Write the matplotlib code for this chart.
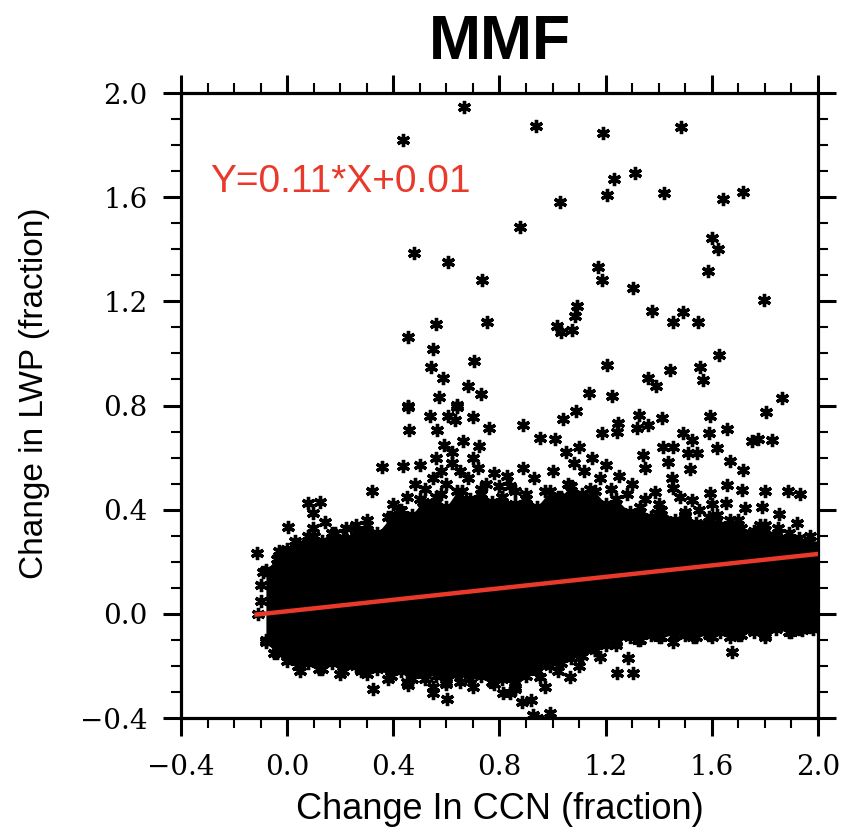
import matplotlib
matplotlib.use("Agg")
import matplotlib.pyplot as plt
from matplotlib.ticker import MultipleLocator
import numpy as np

# ---- data ----
# ragged upper / lower edge of the dense cloud vs CCN change
edge_x = [-0.08, -0.04, 0.00, 0.04, 0.08, 0.13, 0.17, 0.21, 0.26, 0.30, 0.34, 0.39,
          0.43, 0.47, 0.51, 0.56, 0.60, 0.64, 0.69, 0.73, 0.77, 0.81, 0.86, 0.90,
          0.94, 0.99, 1.03, 1.07, 1.11, 1.16, 1.20, 1.24, 1.29, 1.33, 1.37, 1.41,
          1.46, 1.50, 1.54, 1.59, 1.63, 1.67, 1.71, 1.76, 1.80, 1.84, 1.89, 1.93, 1.97]
edge_top = [0.17, 0.21, 0.25, 0.27, 0.30, 0.28, 0.31, 0.29, 0.32, 0.34, 0.31, 0.37,
            0.40, 0.38, 0.43, 0.45, 0.41, 0.47, 0.44, 0.48, 0.43, 0.45, 0.42, 0.46,
            0.41, 0.47, 0.45, 0.49, 0.46, 0.47, 0.42, 0.44, 0.39, 0.41, 0.37, 0.40,
            0.36, 0.39, 0.35, 0.37, 0.34, 0.36, 0.33, 0.32, 0.34, 0.30, 0.31, 0.29, 0.28]
edge_bot = [-0.11, -0.15, -0.18, -0.20, -0.19, -0.21, -0.19, -0.22, -0.20, -0.23, -0.21, -0.24,
            -0.22, -0.25, -0.23, -0.24, -0.26, -0.23, -0.25, -0.24, -0.26, -0.25, -0.28, -0.24,
            -0.22, -0.20, -0.19, -0.17, -0.16, -0.14, -0.12, -0.11, -0.09, -0.10, -0.08, -0.09,
            -0.08, -0.07, -0.09, -0.08, -0.07, -0.09, -0.08, -0.07, -0.08, -0.06, -0.07, -0.06, -0.05]

# scattered points (x, y)
pts_x = [
    # high outliers
    0.666, 0.438, 0.479, 0.607, 0.735, 0.561, 0.754, 0.456, 0.551, 0.705, 0.541,
    0.588, 0.680, 0.730, 0.573, 0.454, 0.639,
    0.936, 1.189, 1.484, 1.311, 1.232, 1.204, 1.420, 1.641, 1.719, 1.028, 0.877,
    1.602, 1.624, 1.170, 1.185, 1.585, 1.304, 1.798, 1.091, 1.085, 1.016, 1.031,
    1.075, 1.373, 1.493, 1.455, 1.547, 1.627, 1.206, 1.443, 1.556, 1.568, 1.361,
    1.390, 1.137, 1.223, 1.866,
    # 0.4 - 0.8 band
    1.088, 1.041, 0.890, 0.953, 1.009, 1.327, 1.414, 1.593, 1.591, 1.656, 1.803,
    1.750, 1.775, 1.828, 1.317, 1.361, 1.248, 1.185, 1.242, 1.340, 1.493, 1.524,
    1.512, 1.543, 1.518, 1.417, 1.455, 1.436, 1.618, 1.669, 1.719, 1.656, 1.713,
    1.800, 1.888, 1.932, 1.725, 1.790, 1.854, 1.593, 1.653, 1.386, 1.455, 1.524,
    1.392, 0.456, 0.538, 0.607, 0.639, 0.632, 0.701, 0.460, 0.566, 0.762, 0.661,
    0.724, 0.591, 0.356, 0.438, 0.319, 0.080, 0.124, 0.099, 0.004, 0.099, 0.143,
    -0.115, -0.100,
    # upper fringe of the cloud
    0.40, 0.45, 0.48, 0.52, 0.55, 0.58, 0.60, 0.62, 0.65, 0.68, 0.70, 0.72, 0.75,
    0.78, 0.80, 0.83, 0.50, 0.42, 0.38, 0.30, 0.26, 0.22, 0.18, 0.58, 0.66, 0.73,
    0.62, 0.56, 0.50, 0.10, 0.03, -0.03,
    1.05, 1.08, 1.10, 1.12, 1.15, 1.18, 1.20, 1.22, 1.06, 1.00, 0.97, 1.02, 1.14,
    1.25, 1.28, 1.30, 0.90, 0.86, 1.35, 1.40, 1.48, 1.55, 1.60, 1.62, 1.70, 1.78,
    1.85, 1.92, 1.97, 1.45, 1.50, 1.35, 0.93, 0.89, 0.84, 0.81,
    # lower fringe and low outliers
    0.05, 0.12, 0.20, 0.28, 0.38, 0.45, 0.52, 0.60, 0.70, 0.78, 0.86, 0.92, 0.97,
    1.02, 1.10, 1.16, 1.24, 1.32, 1.40, 1.50, 1.60, 1.70, 1.80, 1.90, 1.98, -0.05,
    -0.08, -0.10, -0.11, -0.09,
    0.322, 0.456, 0.551, 0.551, 0.601, 0.651, 0.815, 0.953, 1.066, 1.179, 1.242,
    1.304, 1.285, 1.675, 1.455, 1.530, 1.939, 0.840, 0.884, 0.990, 0.927, 0.940,
]
pts_y = [
    1.947, 1.820, 1.387, 1.352, 1.282, 1.113, 1.119, 1.062, 1.016, 0.972, 0.949,
    0.904, 0.876, 0.844, 0.831, 0.798, 0.802,
    1.874, 1.845, 1.868, 1.694, 1.670, 1.608, 1.617, 1.593, 1.621, 1.583, 1.487,
    1.442, 1.401, 1.331, 1.282, 1.318, 1.252, 1.205, 1.183, 1.144, 1.105, 1.083,
    1.090, 1.163, 1.158, 1.122, 1.119, 0.994, 0.955, 0.936, 0.947, 0.898, 0.904,
    0.876, 0.849, 0.838, 0.828,
    0.780, 0.747, 0.725, 0.674, 0.670, 0.763, 0.751, 0.761, 0.696, 0.708, 0.776,
    0.664, 0.670, 0.667, 0.712, 0.725, 0.731, 0.693, 0.699, 0.610, 0.693, 0.667,
    0.616, 0.616, 0.556, 0.642, 0.642, 0.584, 0.636, 0.587, 0.552, 0.495, 0.475,
    0.473, 0.473, 0.460, 0.405, 0.411, 0.382, 0.463, 0.424, 0.469, 0.482, 0.437,
    0.386, 0.793, 0.760, 0.760, 0.793, 0.744, 0.754, 0.706, 0.706, 0.712, 0.665,
    0.644, 0.648, 0.565, 0.568, 0.473, 0.427, 0.431, 0.386, 0.335, 0.329, 0.354,
    0.235, 0.111,
    0.42, 0.45, 0.50, 0.48, 0.52, 0.55, 0.50, 0.58, 0.55, 0.52, 0.60, 0.56, 0.50,
    0.54, 0.49, 0.53, 0.44, 0.40, 0.37, 0.36, 0.34, 0.33, 0.31, 0.46, 0.47, 0.46,
    0.62, 0.60, 0.57, 0.30, 0.28, 0.24,
    0.62, 0.58, 0.64, 0.55, 0.60, 0.52, 0.57, 0.48, 0.50, 0.55, 0.47, 0.45, 0.48,
    0.53, 0.46, 0.50, 0.44, 0.47, 0.44, 0.42, 0.45, 0.40, 0.42, 0.38, 0.36, 0.34,
    0.33, 0.35, 0.30, 0.52, 0.38, 0.56, 0.52, 0.56, 0.49, 0.45,
    -0.22, -0.21, -0.23, -0.22, -0.25, -0.26, -0.25, -0.27, -0.28, -0.27, -0.29,
    -0.33, -0.28, -0.22, -0.20, -0.14, -0.12, -0.10, -0.09, -0.08, -0.09, -0.08,
    -0.09, -0.07, -0.06, -0.15, -0.10, 0.05, 0.0, 0.16,
    -0.290, -0.273, -0.280, -0.303, -0.327, -0.261, -0.305, -0.241, -0.241, -0.165,
    -0.229, -0.226, -0.171, -0.148, -0.107, -0.088, -0.062, -0.305, -0.337, -0.382,
    -0.389, -0.400,
]

# regression line given in the figure
slope = 0.11
intercept = 0.01
fit_label = "Y=0.11*X+0.01"

title = "MMF"
xlabel = "Change In CCN (fraction)"
ylabel = "Change in LWP (fraction)"

red = "#e8392b"
star = dict(ls="none", marker=(6, 2, 0), ms=9.5, mew=2.4, color="black", zorder=3)

fig = plt.figure(figsize=(8.46, 8.32), dpi=100)
ax = fig.add_axes([0.2139, 0.137, 0.7530, 0.7512])

# dense cloud between the edge points, clipped at the right axis
ex = edge_x + [2.0]
ax.fill_between(ex, edge_bot + [edge_bot[-1]], edge_top + [edge_top[-1]],
                color="black", lw=0, zorder=2)
ax.plot(edge_x, edge_top, **star)
ax.plot(edge_x, edge_bot, **star)
ax.plot(pts_x, pts_y, **star)

# fit line over the data range
allx = np.array(pts_x + edge_x + [2.0])
lx = np.array([allx.min(), allx.max()])
ax.plot(lx, slope * lx + intercept, color=red, lw=3.2, zorder=4)

ax.text(-0.29, 1.66, fit_label, color=red, fontsize=28, va="center",
        ha="left", family="Liberation Sans")

ax.set_xlim(-0.4, 2.0)
ax.set_ylim(-0.4, 2.0)
ax.xaxis.set_major_locator(MultipleLocator(0.4))
ax.yaxis.set_major_locator(MultipleLocator(0.4))
ax.xaxis.set_minor_locator(MultipleLocator(0.1))
ax.yaxis.set_minor_locator(MultipleLocator(0.1))
ax.xaxis.set_major_formatter(lambda v, p: f"{v:.1f}".replace("-", "\u2212"))
ax.yaxis.set_major_formatter(lambda v, p: f"{v:.1f}".replace("-", "\u2212"))

for s in ax.spines.values():
    s.set_linewidth(2.3)
ax.tick_params(which="both", direction="out", top=True, right=True,
               labeltop=False, labelright=False)
ax.tick_params(which="major", length=13, width=2.2, labelsize=20)
ax.tick_params(axis="y", which="major", pad=11)
ax.tick_params(axis="x", which="major", pad=13)
ax.tick_params(which="minor", length=7, width=1.5)
for lab in ax.get_xticklabels() + ax.get_yticklabels():
    lab.set_family("DejaVu Serif")

ax.set_xlabel(xlabel, fontsize=26, family="Liberation Sans")
ax.set_ylabel(ylabel, fontsize=24, family="Liberation Sans")
ax.xaxis.set_label_coords(0.5, -0.118)
ax.yaxis.set_label_coords(-0.205, 0.52)
fig.text(0.5907, 0.9495, title, fontsize=45, fontweight="bold",
         family="Liberation Sans", ha="center", va="center")

fig.savefig("out.png", dpi=100)
